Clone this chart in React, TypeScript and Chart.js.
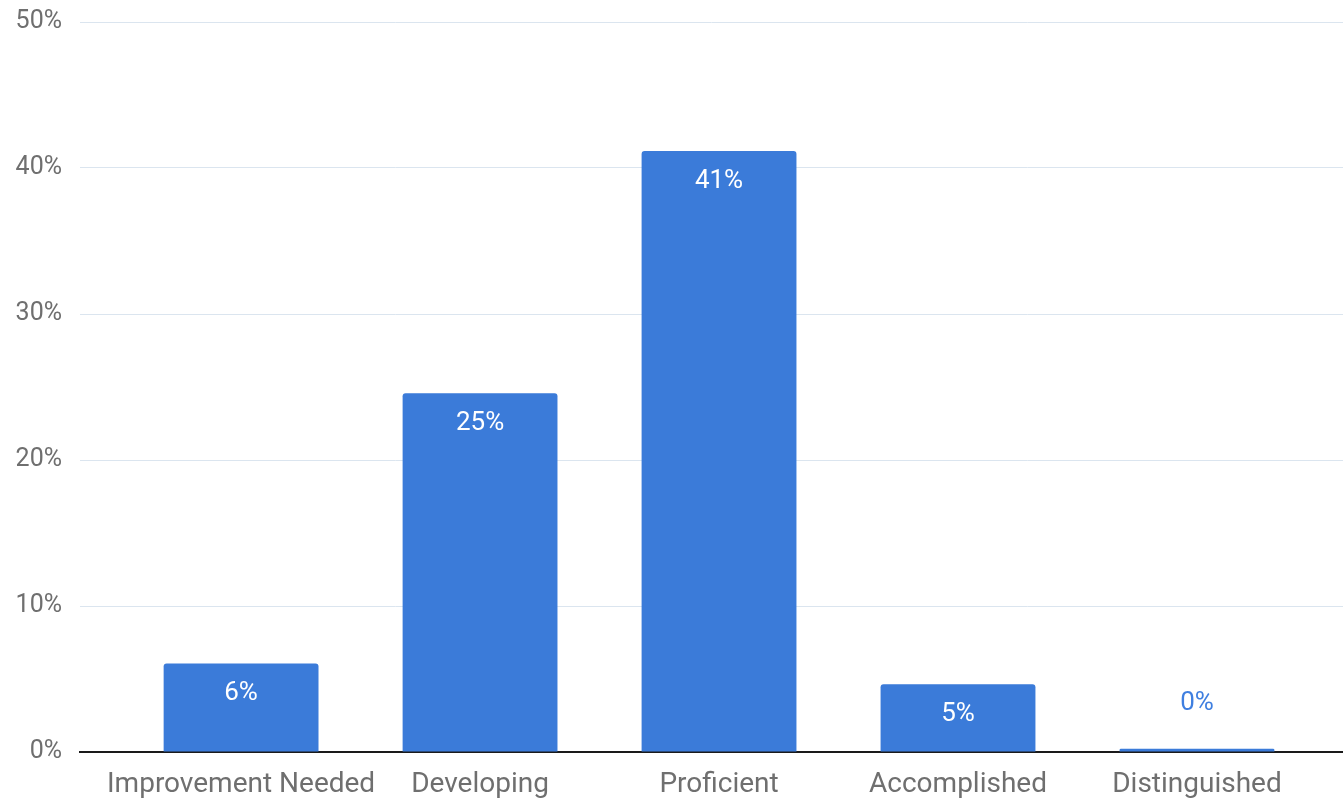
import React, { useEffect, useRef } from "react";
import { Chart, registerables } from "chart.js";

Chart.register(...registerables);

const categories = ["Improvement Needed", "Developing", "Proficient", "Accomplished", "Distinguished"];
const values = [6.07, 24.57, 41.16, 4.64, 0.23];
const yTicks = [0, 10, 20, 30, 40, 50];

const BAR = "#3b7bd9";
const LABEL_BLUE = "#3f7fe0";
const GRID = "#dbe5ef";
const TEXT = "#6f6f6f";
const FONT = "Roboto";

const labelPlugin = {
  id: "barLabels",
  afterDatasetsDraw(chart: any) {
    const ctx = chart.ctx;
    const meta = chart.getDatasetMeta(0);
    ctx.save();
    ctx.font = `26px ${FONT}`;
    ctx.textAlign = "center";
    ctx.textBaseline = "middle";
    meta.data.forEach((el: any, i: number) => {
      const v = values[i];
      const text = Math.round(v) + "%";
      const h = el.base - el.y;
      if (h > 40) {
        ctx.fillStyle = "#ffffff";
        ctx.fillText(text, el.x, el.y + 30);
      } else {
        ctx.fillStyle = LABEL_BLUE;
        ctx.fillText(text, el.x, el.y - 45);
      }
    });
    ctx.restore();
  },
};

export default function App() {
  const ref = useRef<HTMLCanvasElement | null>(null);
  useEffect(() => {
    document.body.style.margin = "0";
    if (!ref.current) return;
    const chart = new Chart(ref.current, {
      type: "bar",
      data: {
        datasets: [
          {
            data: values.map((v, i) => ({ x: i, y: v })),
            backgroundColor: BAR,
            borderRadius: 3,
            categoryPercentage: 1,
            barPercentage: 0.648,
          },
        ],
      },
      options: {
        animation: false,
        responsive: false,
        maintainAspectRatio: false,
        layout: { padding: { top: 22, right: 0, left: 0, bottom: 0 } },
        plugins: { legend: { display: false }, tooltip: { enabled: false } },
        scales: {
          x: {
            type: "linear",
            offset: false,
            min: -0.674,
            max: 4.611,
            grid: { display: false },
            border: { display: true, color: "#1a1a1a", width: 2 },
            afterFit: (s: any) => {
              s.height = 51;
              s.paddingLeft = 0;
              s.paddingRight = 0;
            },
            ticks: {
              stepSize: 1,
              includeBounds: false,
              autoSkip: false,
              maxRotation: 0,
              padding: 8,
              color: TEXT,
              font: { family: FONT, size: 28 },
              callback: (v: any) => (Number.isInteger(v) && categories[v] !== undefined ? categories[v] : ""),
            },
          },
          y: {
            min: yTicks[0],
            max: yTicks[yTicks.length - 1],
            afterBuildTicks: (s: any) => {
              s.ticks = yTicks.map((v) => ({ value: v }));
            },
            afterFit: (s: any) => {
              s.width = 80;
              s.paddingTop = 0;
              s.paddingBottom = 0;
            },
            grid: { color: GRID, lineWidth: 1, drawTicks: false },
            border: { display: false },
            ticks: {
              padding: 18,
              color: TEXT,
              font: { family: FONT, size: 25 },
              callback: (v: any) => v + "%",
            },
          },
        },
      },
      plugins: [labelPlugin],
    } as any);
    return () => chart.destroy();
  }, []);
  return (
    <div style={{ width: 1343, height: 803 }}>
      <canvas ref={ref} width={1343} height={803} style={{ display: "block" }} />
    </div>
  );
}
